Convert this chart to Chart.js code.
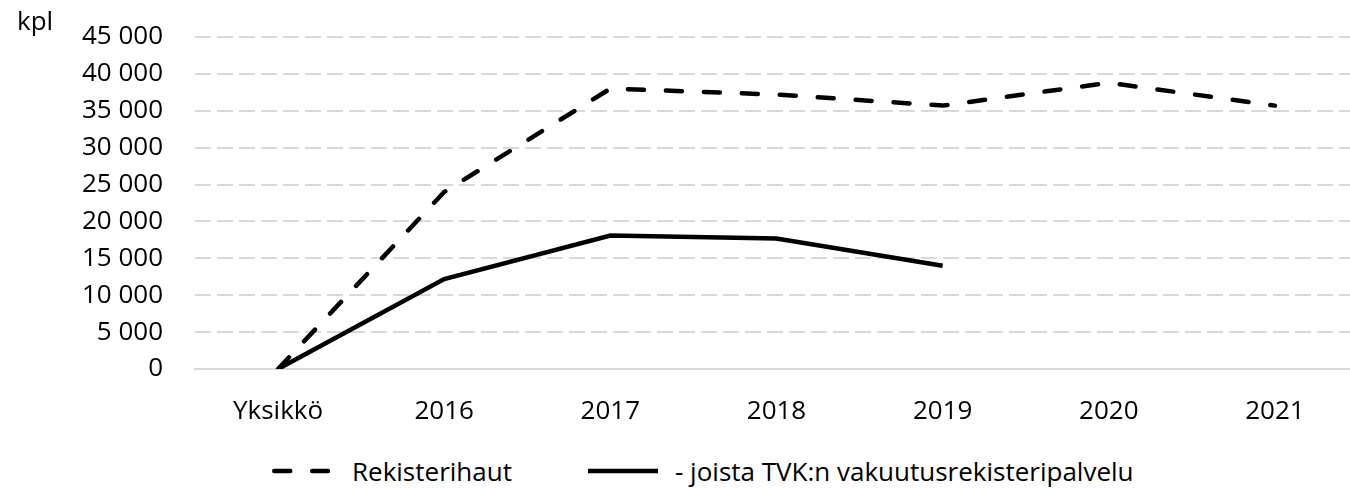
<!DOCTYPE html>
<html lang="fi">
<head>
<meta charset="utf-8">
<title>Rekisterihaut</title>
<script src="https://cdn.jsdelivr.net/npm/chart.js@4/dist/chart.umd.min.js"></script>
<style>
    html, body {
        margin: 0;
        padding: 0;
        background: #fff;
        overflow: hidden;
    }
    .chart-wrap {
        position: relative;
        width: 1358px;
        height: 488px;
        font-family: "Open Sans", sans-serif;
    }
    .chart-box {
        position: absolute;
        left: 0;
        top: 0;
        width: 1358px;
        height: 440px;
    }
    #legend {
        position: absolute;
        left: 272px;
        top: 458px;
        display: flex;
        align-items: center;
        height: 26px;
        font-size: 26px;
        color: #000;
        white-space: nowrap;
    }
    #legend .item {
        display: flex;
        align-items: center;
    }
    #legend .item:first-child {
        width: 316px;
    }
    #legend svg {
        display: block;
    }
</style>
</head>
<body>
<div class="chart-wrap">
    <div class="chart-box"><canvas id="hakuChart"></canvas></div>
    <div id="legend"></div>
</div>
<script>
// Rekisterihaut per year, and the share of them made via TVK's service
const categories = ['Yksikkö', '2016', '2017', '2018', '2019', '2020', '2021'];
const rekisterihaut = [0, 24000, 38000, 37200, 35700, 38800, 35700];
const tvkHaut = [0, 12200, 18100, 17700, 14000, null, null];
const seriesLabels = ['Rekisterihaut', '- joista TVK:n vakuutusrekisteripalvelu'];
const yTicks = [0, 5000, 10000, 15000, 20000, 25000, 30000, 35000, 40000, 45000];
const unitLabel = 'kpl';

const FONT = '"Open Sans", sans-serif';

function formatThousands(v) {
    return String(v).replace(/\B(?=(\d{3})+(?!\d))/g, ' ');
}

// unit text above the y axis
const unitPlugin = {
    id: 'unitLabel',
    afterDraw(chart) {
        const ctx = chart.ctx;
        ctx.save();
        ctx.font = '26px ' + FONT;
        ctx.fillStyle = '#000';
        ctx.textAlign = 'left';
        ctx.textBaseline = 'middle';
        ctx.fillText(unitLabel, 17, 23);
        ctx.restore();
    }
};

const datasets = [
    {
        label: seriesLabels[0],
        data: rekisterihaut,
        borderColor: '#000',
        borderWidth: 4.5,
        borderDash: [16, 22],
        borderCapStyle: 'round',
        pointRadius: 0,
        tension: 0,
        fill: false
    },
    {
        label: seriesLabels[1],
        data: tvkHaut,
        borderColor: '#000',
        borderWidth: 4.5,
        borderCapStyle: 'butt',
        pointRadius: 0,
        tension: 0,
        fill: false,
        spanGaps: false
    }
];

const chart = new Chart(document.getElementById('hakuChart'), {
    type: 'line',
    data: { labels: categories, datasets: datasets },
    options: {
        responsive: true,
        maintainAspectRatio: false,
        animation: false,
        layout: { padding: { top: 37, left: 0, right: 0, bottom: 0 } },
        plugins: {
            legend: { display: false },
            tooltip: { enabled: false }
        },
        scales: {
            x: {
                offset: true,
                grid: { display: false, drawTicks: false },
                border: { display: true, color: '#d9d9d9', width: 2 },
                ticks: {
                    color: '#000',
                    padding: 27,
                    maxRotation: 0,
                    autoSkip: false,
                    font: { family: FONT, size: 26 }
                },
                afterFit: (scale) => { scale.height = 71; }
            },
            y: {
                min: 0,
                max: 45000,
                afterBuildTicks: (scale) => {
                    scale.ticks = yTicks.map(v => ({ value: v }));
                },
                grid: { color: '#d9d9d9', lineWidth: 2, drawTicks: false },
                border: { display: false, dash: [16, 6] },
                ticks: {
                    color: '#000',
                    padding: 32,
                    font: { family: FONT, size: 26 },
                    callback: (value) => formatThousands(value)
                },
                afterFit: (scale) => {
                    // the layout padding already leaves room for the top label
                    scale.width = 195;
                    scale.paddingTop = 0;
                    scale.paddingBottom = 0;
                }
            }
        }
    },
    plugins: [unitPlugin]
});

// HTML legend built from the datasets
function renderLegend() {
    const legend = document.getElementById('legend');
    legend.innerHTML = '';
    chart.data.datasets.forEach((ds) => {
        const item = document.createElement('div');
        item.className = 'item';
        const dashed = ds.borderDash && ds.borderDash.length;
        const w = dashed ? 58 : 70;
        const svgNS = 'http://www.w3.org/2000/svg';
        const svg = document.createElementNS(svgNS, 'svg');
        svg.setAttribute('width', w);
        svg.setAttribute('height', 10);
        const line = document.createElementNS(svgNS, 'line');
        line.setAttribute('x1', dashed ? 2.25 : 0);
        line.setAttribute('x2', dashed ? 56 : w);
        line.setAttribute('y1', 5);
        line.setAttribute('y2', 5);
        line.setAttribute('stroke', ds.borderColor);
        line.setAttribute('stroke-width', ds.borderWidth);
        if (dashed) {
            line.setAttribute('stroke-dasharray', ds.borderDash.join(' '));
            line.setAttribute('stroke-linecap', 'round');
        }
        svg.appendChild(line);
        const text = document.createElement('span');
        text.textContent = ds.label;
        text.style.marginLeft = dashed ? '22px' : '17px';
        item.appendChild(svg);
        item.appendChild(text);
        legend.appendChild(item);
    });
}

renderLegend();
</script>
</body>
</html>
